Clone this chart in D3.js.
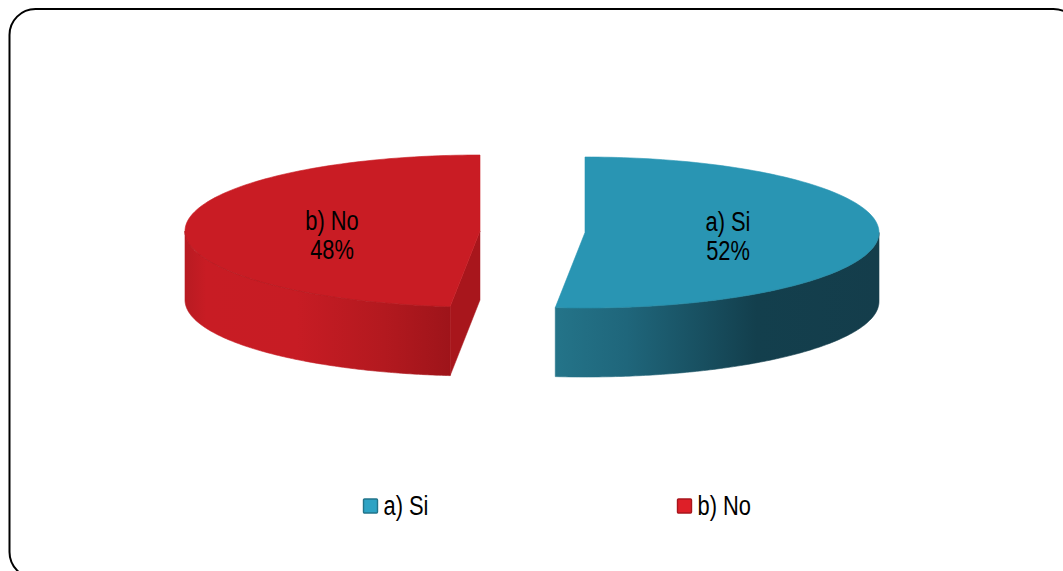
<!DOCTYPE html>
<html><head><meta charset="utf-8">
<script src="https://cdnjs.cloudflare.com/ajax/libs/d3/7.8.5/d3.min.js"></script>
<style>html,body{margin:0;padding:0;background:#fff;overflow:hidden}svg{display:block}
text{font-family:"Liberation Sans",Arial,sans-serif;fill:#000}</style>
</head><body><svg id="c" width="1063" height="571"></svg>
<script>
const categories = ["a) Si", "b) No"];
const values = [52, 48];
const percentLabels = ["52%", "48%"];
const topColors = ["#2995b3", "#c91c24"];
const swatchColors = ["#2ea3c4", "#de1f28"];
const swatchStrokes = ["#22748a", "#a8161c"];
const cutColors = ["#1d6679", "#a8161c"];
const rimOpacity = [0.25, 0.7];
const wallStops = [
  [[0,"#247489"],[0.22,"#1f667b"],[0.62,"#133f4d"],[1,"#143d4b"]],
  [[0,"#b81b22"],[0.08,"#c81c24"],[0.42,"#c71c24"],[0.75,"#b3191f"],[1,"#9e141a"]]
];
// each slice is pulled out horizontally; ellipse geometry per slice
const pieces = [
  {cx:585, cy:232.5, rx:294, ry:75.5, depth:69, lx:728, ly:222},
  {cx:480, cy:231, rx:295, ry:76, depth:69, lx:332, ly:221}
];
const warp = -0.098; // mild perspective of the 3D pie
const narrow = 0.81; // condensed lettering

const svg = d3.select("#c");
const defs = svg.append("defs");
const pie = d3.pie().sort(null).value(d => d);
const arcs = pie(values);

function pt(p, a, dy=0){
  const w = a + warp*Math.sin(2*a);
  return [p.cx + p.rx*Math.sin(w), p.cy - p.ry*Math.cos(w) + dy];
}
function samples(a0, a1){
  return d3.range(0, 121).map(i => a0 + (a1-a0)*i/120);
}
const line = d3.line();

// frame
svg.append("rect").attr("x",9.5).attr("y",9).attr("width",1070).attr("height",569)
  .attr("rx",26).attr("ry",26).attr("fill","#fff").attr("stroke","#000").attr("stroke-width",2);

function label(g, x, y, str, anchor){
  g.append("text").attr("text-anchor",anchor).attr("font-size",27)
    .attr("transform",`translate(${x},${y}) scale(${narrow},1)`).text(str);
}

arcs.forEach((d,i)=>{
  const p = pieces[i];
  const g = svg.append("g");
  const col = topColors[i];
  // visible outer wall: the part of the rim on the near half (pi/2..3pi/2)
  const a0 = Math.max(d.startAngle, Math.PI/2), a1 = Math.min(d.endAngle, 3*Math.PI/2);
  const rim = samples(a0,a1);
  const wallPts = rim.map(a=>pt(p,a)).concat(rim.slice().reverse().map(a=>pt(p,a,p.depth)));
  const xs = d3.extent(wallPts, q=>q[0]);
  const grad = defs.append("linearGradient").attr("id","wall"+i)
    .attr("gradientUnits","userSpaceOnUse")
    .attr("x1",xs[0]).attr("x2",xs[1]).attr("y1",0).attr("y2",0);
  wallStops[i].forEach(s=>grad.append("stop").attr("offset",s[0]).attr("stop-color",s[1]));
  g.append("path").attr("d",line(wallPts)+"Z").attr("fill",`url(#wall${i})`)
    .attr("stroke",`url(#wall${i})`).attr("stroke-width",0.6);
  // visible cut face (only the slice whose straight edge faces the viewer)
  if (i === 1){
    const c = [p.cx,p.cy], e = pt(p,d.startAngle);
    const face = [c, e, [e[0],e[1]+p.depth], [c[0],c[1]+p.depth]];
    g.append("path").attr("d",line(face)+"Z").attr("fill",cutColors[i])
      .attr("stroke",cutColors[i]).attr("stroke-width",0.5);
  }
  // top surface
  const topPts = [[p.cx,p.cy]].concat(samples(d.startAngle,d.endAngle).map(a=>pt(p,a)));
  g.append("path").attr("d",line(topPts)+"Z").attr("fill",col)
    .attr("stroke",col).attr("stroke-width",0.6);
  // darker rim line between the top and the wall
  g.append("path").attr("d",line(rim.map(a=>pt(p,a)))).attr("fill","none")
    .attr("stroke",cutColors[i]).attr("stroke-width",0.7).attr("opacity",rimOpacity[i]);
  // labels
  label(g, p.lx, p.ly+9, categories[i], "middle");
  label(g, p.lx, p.ly+38, percentLabels[i], "middle");
});

// legend
const legendX = d3.scaleOrdinal().domain(categories).range([363.5, 677.5]);
const lg = svg.append("g").selectAll("g").data(categories).join("g")
  .attr("transform",d=>`translate(${legendX(d)},499)`);
lg.append("rect").attr("width",14).attr("height",14).attr("rx",1)
  .attr("fill",(d,i)=>swatchColors[i]).attr("stroke",(d,i)=>swatchStrokes[i]).attr("stroke-width",1.4);
lg.each(function(d){ label(d3.select(this), 20, 16, d, "start"); });
</script></body></html>
